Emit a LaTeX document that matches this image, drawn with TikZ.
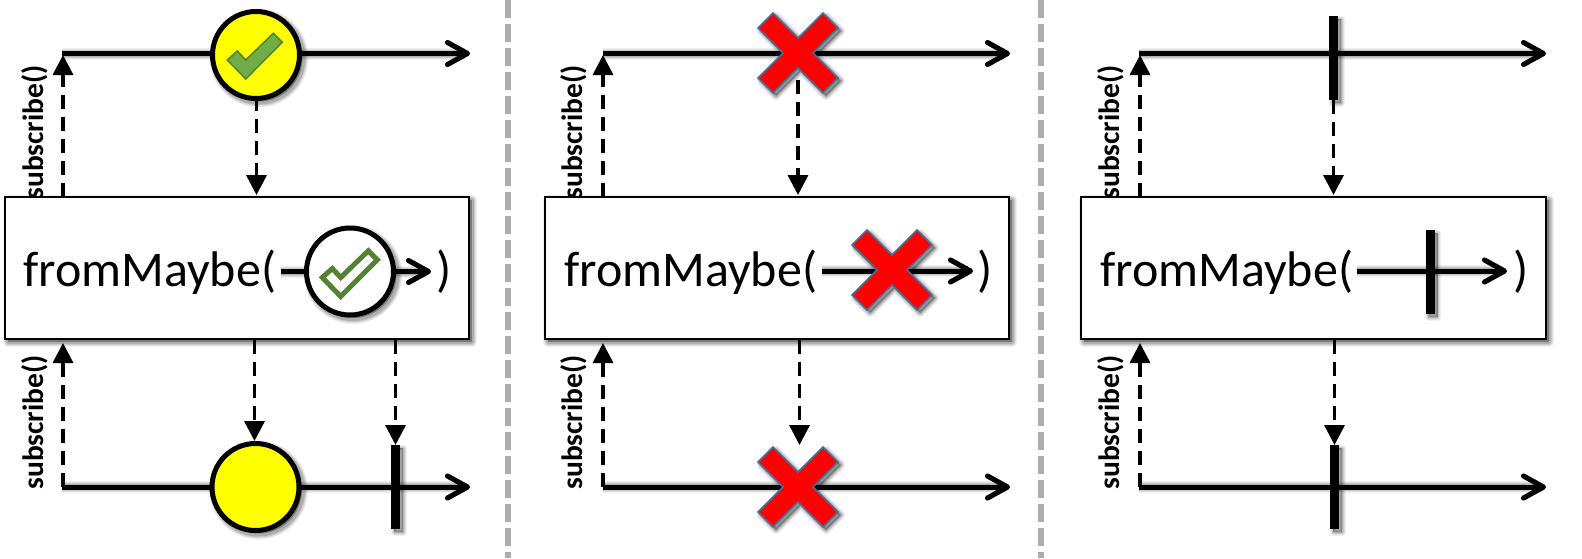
\documentclass[tikz,border=0pt]{standalone}
\usepackage{fontspec}
\setmainfont{Carlito}
\usetikzlibrary{arrows.meta}
\definecolor{sepgray}{HTML}{ADABAB}
\definecolor{tickfill}{HTML}{70AD47}
\definecolor{tickline}{HTML}{548235}
\definecolor{crossline}{HTML}{41719C}
\definecolor{ballyellow}{HTML}{FFFF00}
\definecolor{crossred}{HTML}{FF0000}
\newcommand\softshadow[2]{%
  \begin{scope}[shift={(3,3)}]
    \foreach \ex/\op in {7/.06,5/.07,3/.09,1/.13}{
      \path[draw=black,line width={(#1+\ex)*1pt},opacity=\op,line join=round] #2;
    }
  \end{scope}}
\newcommand\mainline[2]{%
  \softshadow{5}{[-{Straight Barb[length=20pt,width=22pt,line width=5pt,round]}] (#1) -- (#2)}
  \draw[timeline] (#1) -- (#2);}
\newcommand\barmark[4]{% name, x, y, height
  \softshadow{0}{[fill=black] (#2-4.5,#3-#4/2) rectangle (#2+4.5,#3+#4/2)}
  \node[barnode,minimum height=#4pt] (#1) at (#2,#3) {};}
\newcommand\ringmark[4]{% name, x, y, fill
  \softshadow{5}{[fill=black] (#2,#3) circle (43.5)}
  \node[ringnode,fill=#4] (#1) at (#2,#3) {};}
\newcommand\crossmark[3]{% name, x, y
  \softshadow{1.5}{[fill=black,shift={(#2,#3)}] (0,-15)--(25,-40)--(40,-25)--(15,0)--(40,25)--(25,40)--(0,15)--(-25,40)--(-40,25)--(-15,0)--(-40,-25)--(-25,-40)--cycle}
  \draw[fill=crossred,draw=crossline,line width=1.5pt,line join=miter,shift={(#2,#3)}] (0,-15)--(25,-40)--(40,-25)--(15,0)--(40,25)--(25,40)--(0,15)--(-25,40)--(-40,25)--(-15,0)--(-40,-25)--(-25,-40)--cycle;
  \coordinate (#1) at (#2,#3);}
\newcommand\tickpath{(-27.7,6)--(-17.7,-3)--(-9.3,6)--(18.3,-20.7)--(27.3,-11.7)--(-9.3,25)--cycle}
\newcommand\opbox[3]{% name, left x, right x
  \softshadow{2.5}{[fill=black] (#2,197) rectangle (#3,339)}
  \node[boxnode,minimum width={(#3-#2)*1pt}] (#1) at ({(#2+#3)/2},268) {};}
\begin{document}
\begin{tikzpicture}[x=1pt,y=-1pt,
  timeline/.style={line width=5pt,-{Straight Barb[length=20pt,width=22pt,line width=5pt,round]}},
  dashconn/.style={line width=3.4pt,dash pattern=on 14pt off 8pt,-{Triangle[length=20pt,width=20pt]}},
  sepline/.style={draw=sepgray,line width=6pt,dash pattern=on 18pt off 6pt},
  barnode/.style={rectangle,fill=black,minimum width=9pt,inner sep=0pt,outer sep=0pt},
  ringnode/.style={circle,draw=black,line width=5pt,minimum size=87pt,inner sep=0pt,outer sep=0pt},
  boxnode/.style={rectangle,draw=black,fill=white,line width=2.5pt,minimum height=142pt,inner sep=0pt,outer sep=0pt},
  optext/.style={font=\fontsize{50}{50}\selectfont,inner sep=0pt,anchor=base west},
  subtext/.style={font=\fontsize{29.5}{30}\selectfont\bfseries,inner sep=0pt,rotate=90,anchor=center},
]
\useasboundingbox (0,0) rectangle (1582,558);
\fill[white] (0,0) rectangle (1582,558);

% separators
\coordinate (s1a) at (508,0); \coordinate (s1b) at (508,558);
\coordinate (s2a) at (1041,0); \coordinate (s2b) at (1041,558);
\draw[sepline] (s1a) -- (s1b);
\draw[sepline] (s2a) -- (s2b);

% ---------- panel 1
\coordinate (p1ts) at (62,53.5); \coordinate (p1te) at (470,53.5);
\coordinate (p1bs) at (62,487); \coordinate (p1be) at (470,487);
\coordinate (p1u1a) at (63,197); \coordinate (p1u1b) at (63,55);
\coordinate (p1u2a) at (63,487); \coordinate (p1u2b) at (63,343);
\coordinate (p1d1a) at (256.5,97); \coordinate (p1d1b) at (256.5,195);
\coordinate (p1d2a) at (254.5,340); \coordinate (p1d2b) at (254.5,441);
\coordinate (p1d3a) at (395.5,340); \coordinate (p1d3b) at (395.5,445);
\node[subtext] (p1sa) at (35,132.5) {subscribe()};
\node[subtext] (p1sb) at (35,422.5) {subscribe()};
\draw[dashconn] (p1u1a) -- (p1u1b);
\draw[dashconn] (p1u2a) -- (p1u2b);
\draw[dashconn] (p1d1a) -- (p1d1b);
\mainline{p1ts}{p1te}
\ringmark{p1c}{256}{55}{ballyellow}
\draw[fill=tickfill,draw=tickline,line width=1.5pt,shift={(255,54)}] \tickpath;
\opbox{p1box}{5}{469}
\node[optext] (p1t) at (23,286) {fromMaybe(};
\node[optext] (p1p) at (436,286) {)};
\coordinate (p1is) at (281,271.5); \coordinate (p1ie) at (431,271.5);
\mainline{p1is}{p1ie}
\ringmark{p1ic}{350}{271.5}{white}
\draw[fill=white,draw=tickline,line width=5pt,shift={(350,271.5)}] \tickpath;
\draw[dashconn] (p1d2a) -- (p1d2b);
\draw[dashconn] (p1d3a) -- (p1d3b);
\mainline{p1bs}{p1be}
\ringmark{p1d}{255.5}{487}{ballyellow}
\barmark{p1bar}{395.5}{487}{84}

% ---------- panel 2
\coordinate (p2ts) at (603,53.5); \coordinate (p2te) at (1010,53.5);
\coordinate (p2bs) at (603,487); \coordinate (p2be) at (1010,487);
\coordinate (p2u1a) at (603,197); \coordinate (p2u1b) at (603,55);
\coordinate (p2u2a) at (603,487); \coordinate (p2u2b) at (603,343);
\coordinate (p2d1a) at (798,80); \coordinate (p2d1b) at (798,195);
\coordinate (p2d2a) at (799.5,340); \coordinate (p2d2b) at (799.5,445);
\node[subtext] (p2sa) at (574,132.5) {subscribe()};
\node[subtext] (p2sb) at (574,422.5) {subscribe()};
\draw[dashconn] (p2u1a) -- (p2u1b);
\draw[dashconn] (p2u2a) -- (p2u2b);
\draw[dashconn] (p2d1a) -- (p2d1b);
\mainline{p2ts}{p2te}
\crossmark{p2x}{798}{53}
\opbox{p2box}{545}{1009}
\node[optext] (p2t) at (564,286) {fromMaybe(};
\node[optext] (p2p) at (977,286) {)};
\coordinate (p2is) at (822,271); \coordinate (p2ie) at (973,271);
\mainline{p2is}{p2ie}
\crossmark{p2ix}{892}{270}
\draw[dashconn] (p2d2a) -- (p2d2b);
\mainline{p2bs}{p2be}
\crossmark{p2y}{798}{487}

% ---------- panel 3
\coordinate (p3ts) at (1139,53.5); \coordinate (p3te) at (1546,53.5);
\coordinate (p3bs) at (1139,487); \coordinate (p3be) at (1546,487);
\coordinate (p3u1a) at (1140,197); \coordinate (p3u1b) at (1140,55);
\coordinate (p3u2a) at (1140,487); \coordinate (p3u2b) at (1140,343);
\coordinate (p3d1a) at (1333.5,100); \coordinate (p3d1b) at (1333.5,195);
\coordinate (p3d2a) at (1334.5,340); \coordinate (p3d2b) at (1334.5,445);
\node[subtext] (p3sa) at (1111,132.5) {subscribe()};
\node[subtext] (p3sb) at (1111,422.5) {subscribe()};
\draw[dashconn] (p3u1a) -- (p3u1b);
\draw[dashconn] (p3u2a) -- (p3u2b);
\draw[dashconn] (p3d1a) -- (p3d1b);
\mainline{p3ts}{p3te}
\barmark{p3bar}{1333.5}{58}{84}
\opbox{p3box}{1081}{1546}
\node[optext] (p3t) at (1100,286) {fromMaybe(};
\node[optext] (p3p) at (1513,286) {)};
\coordinate (p3is) at (1357,271); \coordinate (p3ie) at (1507,271);
\mainline{p3is}{p3ie}
\barmark{p3ibar}{1430}{272}{84}
\draw[dashconn] (p3d2a) -- (p3d2b);
\mainline{p3bs}{p3be}
\barmark{p3y}{1334.5}{487}{84}
\end{tikzpicture}
\end{document}
